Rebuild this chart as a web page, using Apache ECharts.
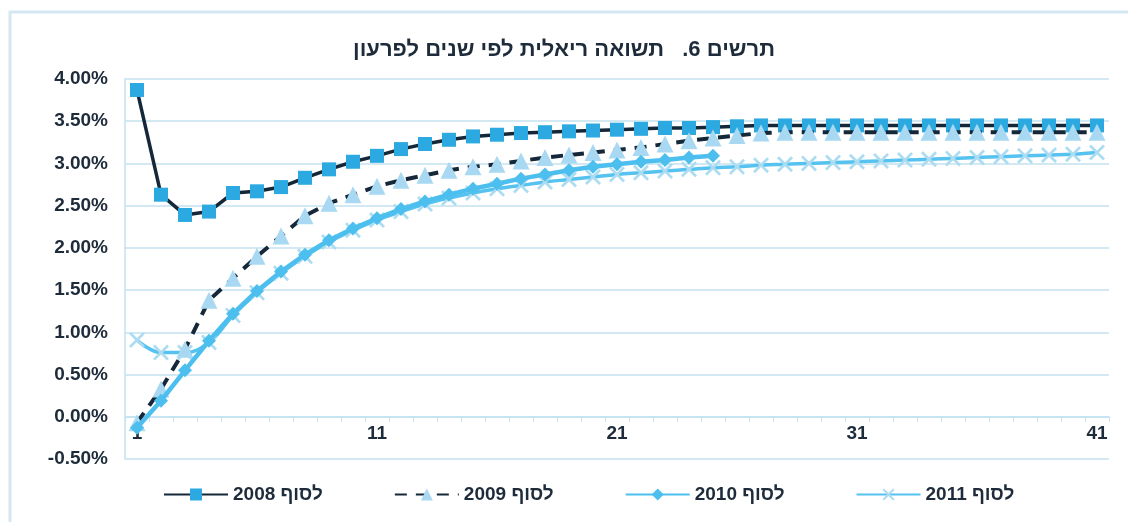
<!DOCTYPE html>
<html>
<head>
<meta charset="utf-8">
<script src="https://cdn.jsdelivr.net/npm/echarts@6/dist/echarts.min.js"></script>
<style>
  html, body { margin: 0; padding: 0; background: #fff; }
  #chart { width: 1128px; height: 522px; }
</style>
</head>
<body>
<div id="chart"></div>
<script>
// years to maturity
const years = [];
for (let i = 1; i <= 41; i++) years.push(String(i));

const titleText = 'תרשים 6.   תשואה ריאלית לפי שנים לפרעון';
const seriesNames = ['לסוף 2008', 'לסוף 2009', 'לסוף 2010', 'לסוף 2011'];

// real yield, percent
const y2008 = [3.87, 2.63, 2.39, 2.43, 2.65, 2.67, 2.72, 2.83, 2.93, 3.02,
  3.09, 3.17, 3.23, 3.28, 3.32, 3.34, 3.36, 3.37, 3.38, 3.39,
  3.40, 3.41, 3.42, 3.42, 3.43, 3.44, 3.45, 3.45, 3.45, 3.45,
  3.45, 3.45, 3.45, 3.45, 3.45, 3.45, 3.45, 3.45, 3.45, 3.45, 3.45];
const y2009 = [-0.07, 0.33, 0.80, 1.38, 1.64, 1.90, 2.14, 2.38, 2.53, 2.63,
  2.73, 2.80, 2.86, 2.92, 2.96, 2.99, 3.03, 3.07, 3.10, 3.13,
  3.16, 3.19, 3.23, 3.27, 3.30, 3.33, 3.36, 3.37, 3.37, 3.37,
  3.37, 3.37, 3.37, 3.37, 3.37, 3.37, 3.37, 3.37, 3.37, 3.37, 3.37];
const y2010 = [-0.13, 0.19, 0.55, 0.90, 1.22, 1.49, 1.72, 1.92, 2.09, 2.23,
  2.35, 2.46, 2.55, 2.63, 2.70, 2.76, 2.82, 2.87, 2.92, 2.96,
  2.99, 3.02, 3.04, 3.07, 3.09];
const y2011 = [0.91, 0.76, 0.76, 0.88, 1.20, 1.47, 1.70, 1.90, 2.07, 2.21,
  2.33, 2.43, 2.52, 2.59, 2.65, 2.70, 2.74, 2.78, 2.81, 2.84,
  2.87, 2.89, 2.91, 2.93, 2.95, 2.96, 2.98, 2.99, 3.00, 3.01,
  3.02, 3.03, 3.04, 3.05, 3.06, 3.07, 3.08, 3.09, 3.10, 3.11, 3.13];

const dark = '#15283a';
const gridBlue = '#c3e2f1';
const textColor = '#1d2b3a';
const font = 'Liberation Sans, Arial, sans-serif';
const xMark = 'path://M0,1.2 L1.2,0 L5,3.8 L8.8,0 L10,1.2 L6.2,5 L10,8.8 L8.8,10 L5,6.2 L1.2,10 L0,8.8 L3.8,5 Z';

const chart = echarts.init(document.getElementById('chart'), null, { renderer: 'canvas' });
chart.setOption({
  backgroundColor: '#ffffff',
  animation: false,
  graphic: [{
    type: 'rect',
    shape: { x: 10, y: 12, width: 1130, height: 520 },
    style: { fill: 'none', stroke: '#d3e8f3', lineWidth: 3 },
    silent: true
  }],
  title: {
    text: titleText,
    left: 'center',
    top: 34,
    textStyle: { fontFamily: font, fontWeight: 'bold', fontSize: 22, color: textColor }
  },
  legend: {
    bottom: 13,
    left: 158,
    itemWidth: 64,
    itemHeight: 15,
    itemGap: 71,
    data: seriesNames,
    textStyle: { fontFamily: font, fontWeight: 'bold', fontSize: 19, color: textColor }
  },
  grid: { left: 125, right: 19, top: 79, bottom: 63 },
  xAxis: {
    type: 'category',
    data: years,
    boundaryGap: true,
    position: 'bottom',
    offset: -42.2,
    axisLine: { onZero: false, lineStyle: { color: gridBlue, width: 1.5 } },
    axisTick: { show: true, interval: 0, length: 5, lineStyle: { color: gridBlue } },
    axisLabel: {
      interval: 9, margin: 7,
      fontFamily: font, fontWeight: 'bold', fontSize: 19, color: textColor
    },
    splitLine: { show: false }
  },
  yAxis: {
    type: 'value',
    min: -0.5,
    max: 4,
    interval: 0.5,
    axisLine: { show: true, lineStyle: { color: gridBlue, width: 1.5 } },
    axisTick: { show: false },
    splitLine: { lineStyle: { color: gridBlue, width: 1.5 } },
    axisLabel: {
      margin: 17,
      formatter: v => v.toFixed(2) + '%',
      fontFamily: font, fontWeight: 'bold', fontSize: 19, color: textColor
    }
  },
  series: [
    {
      name: seriesNames[0], type: 'line', data: y2008, z: 3,
      symbol: 'rect', symbolSize: 14, showAllSymbol: true,
      lineStyle: { color: dark, width: 3.5 },
      itemStyle: { color: '#2ba9e0' }
    },
    {
      name: seriesNames[1], type: 'line', data: y2009, z: 4,
      symbol: 'triangle', symbolSize: 17, showAllSymbol: true,
      lineStyle: { color: dark, width: 4, type: [12, 9] },
      itemStyle: { color: '#a9d9f2' }
    },
    {
      name: seriesNames[2], type: 'line', data: y2010, z: 5,
      symbol: 'diamond', symbolSize: 14, showAllSymbol: true,
      lineStyle: { color: '#4dbfee', width: 4.5 },
      itemStyle: { color: '#4dbfee' }
    },
    {
      name: seriesNames[3], type: 'line', data: y2011, z: 2,
      smooth: 0.4,
      symbol: xMark, symbolSize: 16, showAllSymbol: true,
      lineStyle: { color: '#55c2ef', width: 3.5 },
      itemStyle: { color: '#acdcf2' }
    }
  ]
});
</script>
</body>
</html>
